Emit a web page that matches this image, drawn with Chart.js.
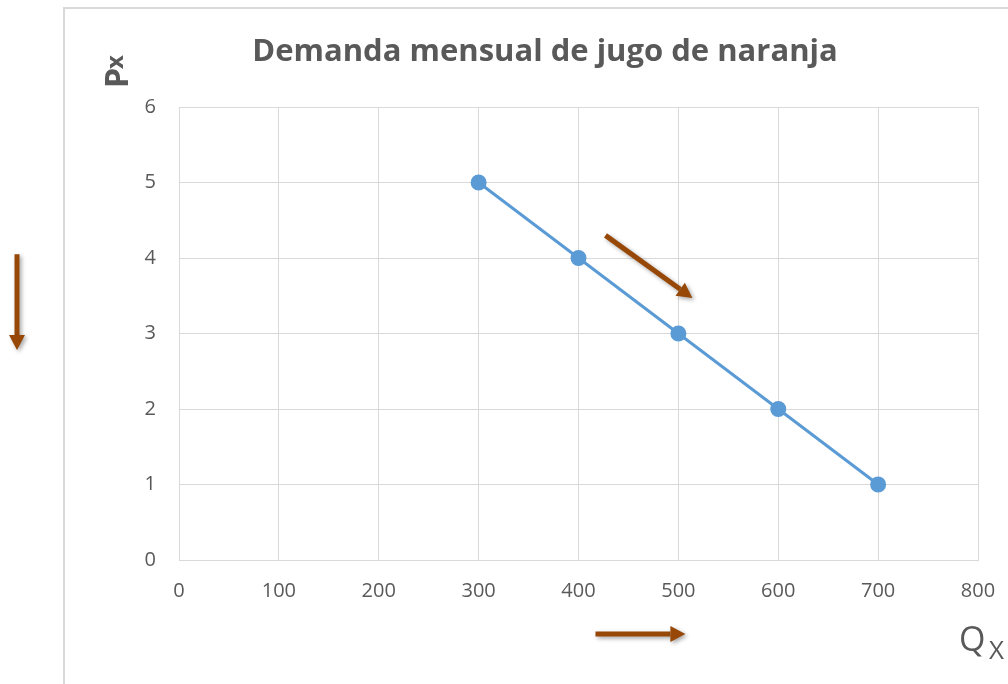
<!DOCTYPE html>
<html>
<head>
<meta charset="utf-8">
<script src="https://cdn.jsdelivr.net/npm/chart.js@4.4.0/dist/chart.umd.min.js"></script>
<style>
  html, body { margin: 0; padding: 0; background: #fff; overflow: hidden; }
  #wrap { position: relative; width: 1008px; height: 684px; }
  canvas { display: block; }
</style>
</head>
<body>
<div id="wrap"><canvas id="demandChart"></canvas></div>
<script>
// data
const quantities = [300, 400, 500, 600, 700];
const prices = [5, 4, 3, 2, 1];
const xTicks = [0, 100, 200, 300, 400, 500, 600, 700, 800];
const yTicks = [0, 1, 2, 3, 4, 5, 6];
const chartTitle = 'Demanda mensual de jugo de naranja';

// brown arrows, in data units (x = Q, y = P); the side one sits off the plot
const arrowDiag = { from: [427, 4.3], to: [514, 3.47] };
const arrowBottom = { from: [417, 634], to: [507, 634] };   // y in pixels
const arrowSide = { x: 17, from: [4.05], to: [2.78] };       // x in pixels

const textGray = '#595959';
const brown = '#974806';

function drawArrow(c, x1, y1, x2, y2) {
  const ang = Math.atan2(y2 - y1, x2 - x1);
  const head = 15, half = 8;
  const bx = x2 - head * Math.cos(ang), by = y2 - head * Math.sin(ang);
  c.save();
  c.shadowColor = 'rgba(0,0,0,0.35)';
  c.shadowBlur = 4;
  c.shadowOffsetX = 2;
  c.shadowOffsetY = 2;
  c.strokeStyle = brown;
  c.fillStyle = brown;
  c.lineWidth = 5;
  c.beginPath();
  c.moveTo(x1, y1);
  c.lineTo(bx, by);
  c.stroke();
  c.beginPath();
  c.moveTo(x2, y2);
  c.lineTo(bx + half * Math.sin(ang), by - half * Math.cos(ang));
  c.lineTo(bx - half * Math.sin(ang), by + half * Math.cos(ang));
  c.closePath();
  c.fill();
  c.restore();
}

const extras = {
  id: 'extras',
  beforeDraw(chart) {
    const c = chart.ctx;
    c.save();
    c.fillStyle = '#fff';
    c.fillRect(0, 0, chart.width, chart.height);
    // chart frame
    c.strokeStyle = '#d9d9d9';
    c.lineWidth = 2;
    c.strokeRect(64, 8, 1100, 800);
    c.restore();
  },
  afterDraw(chart) {
    const c = chart.ctx;
    const xs = chart.scales.x, ys = chart.scales.y;
    c.save();
    // title
    c.fillStyle = textGray;
    c.font = 'bold 31px "Open Sans"';
    c.textAlign = 'center';
    c.textBaseline = 'middle';
    c.fillText(chartTitle, 545, 52);

    // Px axis label, rotated
    c.save();
    c.translate(128, 72);
    c.rotate(-Math.PI / 2);
    c.textAlign = 'left';
    c.textBaseline = 'alphabetic';
    c.font = 'bold 32px "Open Sans"';
    c.fillText('P', -16, 0);
    c.font = 'bold 24px "Open Sans"';
    c.fillText('x', 3, -5);
    c.restore();

    // Qx axis label
    c.textAlign = 'left';
    c.textBaseline = 'alphabetic';
    c.font = '34px "Open Sans"';
    c.fillText('Q', 959, 651);
    c.font = '26px "Open Sans"';
    c.fillText('X', 989, 659);

    // arrows
    drawArrow(c, xs.getPixelForValue(arrowDiag.from[0]), ys.getPixelForValue(arrowDiag.from[1]),
      xs.getPixelForValue(arrowDiag.to[0]), ys.getPixelForValue(arrowDiag.to[1]));
    drawArrow(c, xs.getPixelForValue(arrowBottom.from[0]), arrowBottom.from[1],
      xs.getPixelForValue(arrowBottom.to[0]), arrowBottom.to[1]);
    drawArrow(c, arrowSide.x, ys.getPixelForValue(arrowSide.from[0]),
      arrowSide.x, ys.getPixelForValue(arrowSide.to[0]));
    c.restore();
  }
};

const ctx = document.getElementById('demandChart').getContext('2d');

const demandChart = new Chart(ctx, {
  type: 'scatter',
  data: {
    datasets: [{
      label: 'Demanda',
      data: quantities.map((q, i) => ({ x: q, y: prices[i] })),
      showLine: true,
      borderColor: '#5B9BD5',
      backgroundColor: '#5B9BD5',
      borderWidth: 3,
      pointRadius: 6.5,
      pointHoverRadius: 6.5,
      fill: false
    }]
  },
  options: {
    responsive: true,
    maintainAspectRatio: false,
    animation: false,
    layout: {
      padding: { top: 107, right: 30, left: 0, bottom: 0 }
    },
    scales: {
      x: {
        type: 'linear',
        min: xTicks[0],
        max: xTicks[xTicks.length - 1],
        afterBuildTicks: (scale) => { scale.ticks = xTicks.map(v => ({ value: v })); },
        afterFit: (scale) => {
          scale.height = 124;
          scale.paddingLeft = 0;
          scale.paddingRight = 0;
        },
        border: { color: '#d9d9d9' },
        grid: { color: '#d9d9d9', drawTicks: false },
        ticks: {
          padding: 19,
          color: textGray,
          font: { family: 'Open Sans', size: 20 }
        }
      },
      y: {
        type: 'linear',
        min: yTicks[0],
        max: yTicks[yTicks.length - 1],
        afterBuildTicks: (scale) => { scale.ticks = yTicks.map(v => ({ value: v })); },
        afterFit: (scale) => {
          scale.width = 179;
          scale.paddingTop = 0;
          scale.paddingBottom = 0;
        },
        border: { color: '#d9d9d9' },
        grid: { color: '#d9d9d9', drawTicks: false },
        ticks: {
          padding: 23,
          color: textGray,
          font: { family: 'Open Sans', size: 20 }
        }
      }
    },
    plugins: {
      legend: { display: false },
      title: { display: false },
      tooltip: { enabled: false }
    }
  },
  plugins: [extras]
});
</script>
</body>
</html>
